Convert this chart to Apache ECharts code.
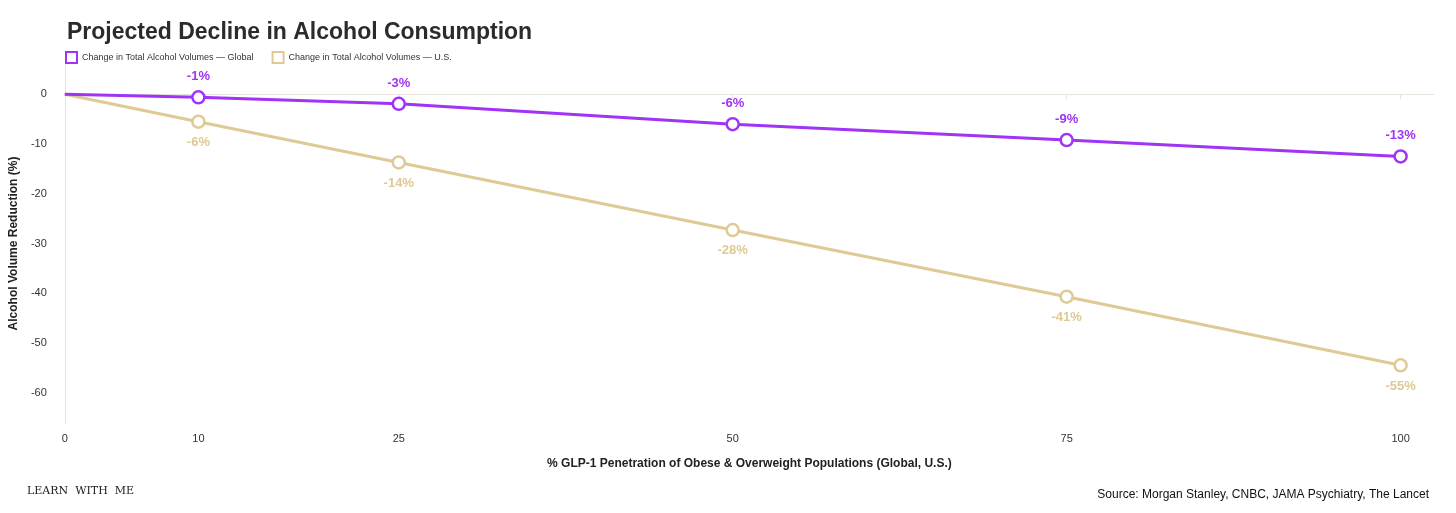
<!DOCTYPE html>
<html>
<head>
    <meta charset="utf-8">
    <title>Projected Decline in Alcohol Consumption</title>
    <script src="https://cdn.jsdelivr.net/npm/echarts@6/dist/echarts.min.js"></script>
    <style>body{margin:0;background:#fff;}</style>
</head>
<body>
    <div id="main" style="width:1456px;height:513px;"></div>
    <script type="text/javascript">
        // data
        var penetration = [0, 10, 25, 50, 75, 100];
        var globalVals = [0, -0.6, -1.9, -6.0, -9.2, -12.5];
        var usVals = [0, -5.5, -13.7, -27.3, -40.7, -54.5];
        var globalLabels = ['', '-1%', '-3%', '-6%', '-9%', '-13%'];
        var usLabels = ['', '-6%', '-14%', '-28%', '-41%', '-55%'];
        var yTicks = [0, -10, -20, -30, -40, -50, -60];

        var purple = '#a033f5';
        var tan = '#dfc994';

        function pts(vals, labels) {
            return penetration.map(function (x, i) {
                var p = { value: [x, vals[i]], label: labels[i] };
                if (i === 0) p.symbol = 'none';
                return p;
            });
        }

        var myChart = echarts.init(document.getElementById('main'));
        var option = {
            backgroundColor: '#fff',
            textStyle: { fontFamily: 'Liberation Sans, Arial, sans-serif' },
            title: [{
                text: 'Projected Decline in Alcohol Consumption',
                left: 62, top: 16,
                textStyle: { fontSize: 23, fontWeight: 'bold', color: '#2b2b2b' }
            }, {
                text: 'LEARN  WITH  ME',
                left: 22, top: 481,
                textStyle: { fontSize: 11, fontWeight: 'normal', color: '#222', fontFamily: 'DejaVu Serif, serif' }
            }, {
                text: 'Source: Morgan Stanley, CNBC, JAMA Psychiatry, The Lancet',
                right: 22, top: 484,
                textStyle: { fontSize: 12, fontWeight: 'normal', color: '#111' }
            }],
            legend: {
                left: 60, top: 46,
                itemWidth: 11, itemHeight: 11, itemGap: 18,
                icon: 'rect',
                textStyle: { fontSize: 9, color: '#333' },
                data: ['Change in Total Alcohol Volumes — Global', 'Change in Total Alcohol Volumes — U.S.']
            },
            grid: { left: 64, right: 22, top: 63, bottom: 89 },
            xAxis: {
                type: 'value', min: 0, max: 102.5,
                name: '% GLP-1 Penetration of Obese & Overweight Populations (Global, U.S.)',
                nameLocation: 'middle', nameGap: 34,
                nameTextStyle: { fontSize: 12, fontWeight: 'bold', color: '#222' },
                axisLine: { show: true, lineStyle: { color: '#e8e2da' } },
                axisTick: { show: true, customValues: penetration, length: 5, lineStyle: { color: '#e8e2da' } },
                axisLabel: { customValues: penetration, fontSize: 11, color: '#333', margin: 9 },
                splitLine: { show: false }
            },
            yAxis: {
                type: 'value', min: -66.3, max: 6.3,
                name: 'Alcohol Volume Reduction (%)',
                nameLocation: 'middle', nameGap: 36, nameRotate: 90,
                nameTextStyle: { fontSize: 12, fontWeight: 'bold', color: '#222' },
                axisLine: { show: true, lineStyle: { color: '#e8e2da' } },
                axisTick: { show: false },
                axisLabel: { customValues: yTicks, fontSize: 11, color: '#333', margin: 18 },
                splitLine: { show: false }
            },
            series: [{
                name: 'Change in Total Alcohol Volumes — Global',
                type: 'line',
                color: purple,
                data: pts(globalVals, globalLabels),
                symbol: 'circle', symbolSize: 12,
                itemStyle: { color: '#fff', borderColor: purple, borderWidth: 2.5 },
                lineStyle: { color: purple, width: 3 },
                label: {
                    show: true, position: 'top', distance: 7,
                    formatter: function (p) { return p.data.label; },
                    color: purple, fontSize: 13, fontWeight: 'bold'
                },
                z: 3
            }, {
                name: 'Change in Total Alcohol Volumes — U.S.',
                type: 'line',
                color: tan,
                data: pts(usVals, usLabels),
                symbol: 'circle', symbolSize: 12,
                itemStyle: { color: '#fff', borderColor: tan, borderWidth: 2.5 },
                lineStyle: { color: tan, width: 3 },
                label: {
                    show: true, position: 'bottom', distance: 7,
                    formatter: function (p) { return p.data.label; },
                    color: tan, fontSize: 13, fontWeight: 'bold'
                },
                z: 2
            }]
        };
        myChart.setOption(option);
    </script>
</body>
</html>
